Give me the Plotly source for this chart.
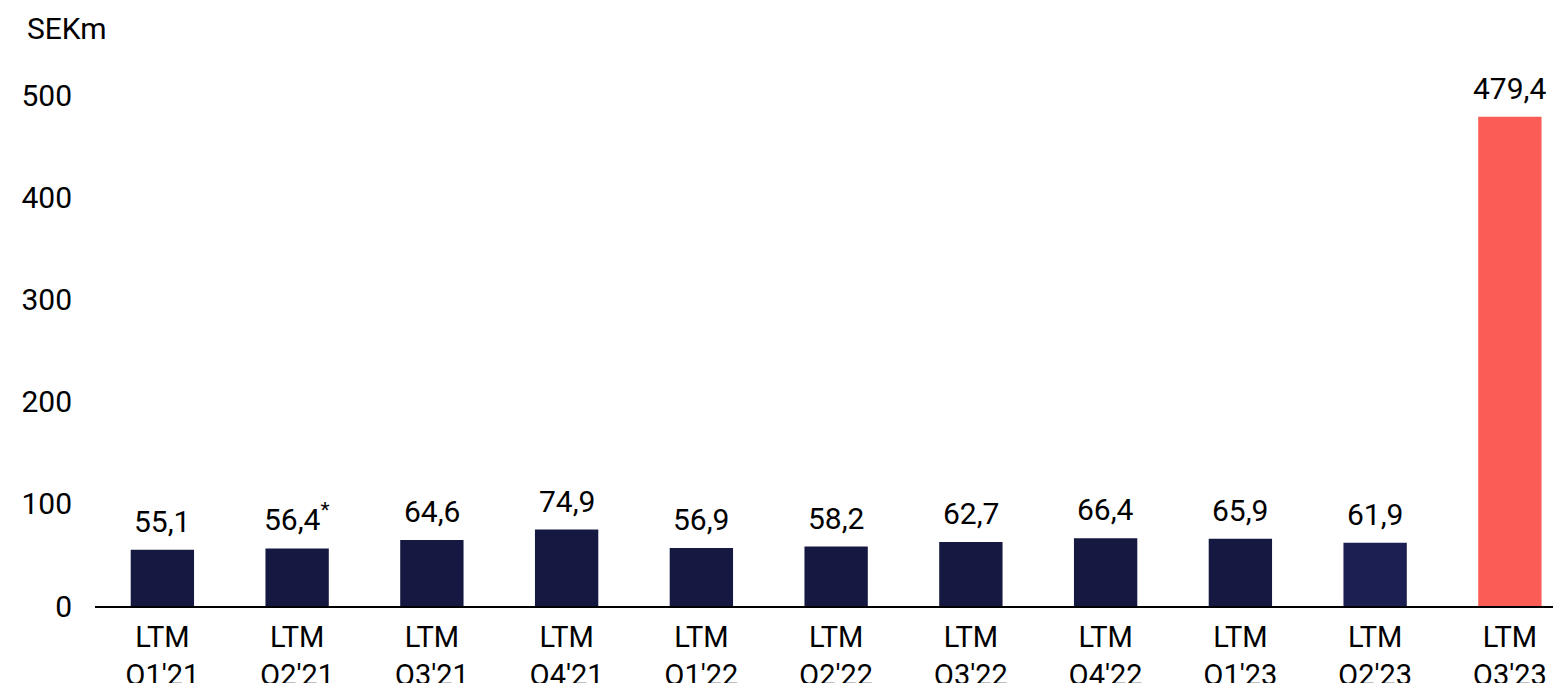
import plotly.graph_objects as go

categories = ["LTM<br>Q1'21", "LTM<br>Q2'21", "LTM<br>Q3'21", "LTM<br>Q4'21", "LTM<br>Q1'22",
              "LTM<br>Q2'22", "LTM<br>Q3'22", "LTM<br>Q4'22", "LTM<br>Q1'23", "LTM<br>Q2'23", "LTM<br>Q3'23"]
values = [55.1, 56.4, 64.6, 74.9, 56.9, 58.2, 62.7, 66.4, 65.9, 61.9, 479.4]
label_suffix = ["", "<sup>*</sup>", "", "", "", "", "", "", "", "", ""]
colors = ["#151840"] * 9 + ["#1c1f52", "#fb5d56"]
tick_vals = [0, 100, 200, 300, 400, 500]

FONT = "Roboto"

fig = go.Figure()
fig.add_trace(go.Bar(
    x=categories, y=values,
    marker=dict(color=colors, line=dict(width=0)),
    width=0.47,
    hoverinfo="skip",
))

for c, v, s in zip(categories, values, label_suffix):
    fig.add_annotation(
        x=c, y=v, text=f"{v:.1f}".replace(".", ",") + s,
        showarrow=False, yanchor="bottom", yshift=9,
        font=dict(family=FONT, size=30, color="#000000"),
    )

fig.add_annotation(
    xref="paper", yref="paper", x=-0.048, y=1.0, xanchor="left", yanchor="bottom",
    text="SEKm", showarrow=False, yshift=12,
    font=dict(family=FONT, size=30, color="#000000"),
)

fig.update_layout(
    width=1553, height=683,
    margin=dict(l=95, r=0, t=60, b=77, autoexpand=False),
    plot_bgcolor="white", paper_bgcolor="white",
    showlegend=False,
    xaxis=dict(
        range=[-0.5, 10.32], automargin=False,
        showline=True, linecolor="#000000", linewidth=2,
        showgrid=False, ticks="", ticklabelstandoff=4,
        tickfont=dict(family=FONT, size=29, color="#000000"),
    ),
    yaxis=dict(
        range=[0, 535], automargin=False,
        tickvals=tick_vals,
        showgrid=False, zeroline=False, showline=False,
        ticks="", ticklabelstandoff=22,
        tickfont=dict(family=FONT, size=30, color="#000000"),
    ),
)

fig.write_html("out.html")
